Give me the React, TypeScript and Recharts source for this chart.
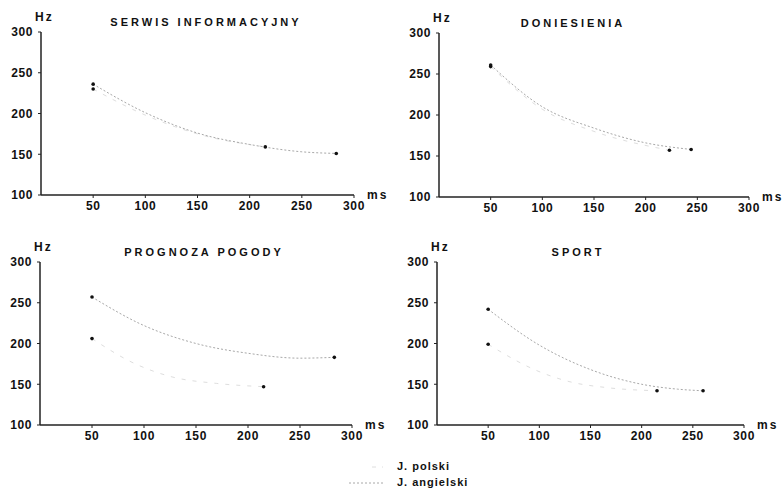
import { LineChart, Line, XAxis, YAxis } from "recharts"

const titles = ["SERWIS INFORMACYJNY", "DONIESIENIA", "PROGNOZA POGODY", "SPORT"]
const xTicks = [50, 100, 150, 200, 250, 300]
const yTicks = [100, 150, 200, 250, 300]
const legendLabels = ["J. polski", "J. angielski"]

// duration (ms) / pitch (Hz)
const serwisPolskiMs = [50, 100, 150, 215]
const serwisPolskiHz = [230, 198, 175, 159]
const serwisAngMs = [50, 100, 150, 200, 250, 283]
const serwisAngHz = [236, 201, 176, 162, 153, 151]

const donPolskiMs = [50, 100, 150, 223]
const donPolskiHz = [259, 207, 180, 157]
const donAngMs = [50, 100, 150, 200, 244]
const donAngHz = [261, 210, 184, 166, 158]

const progPolskiMs = [50, 90, 127, 170, 215]
const progPolskiHz = [206, 176, 159, 151, 147]
const progAngMs = [50, 100, 150, 200, 250, 283]
const progAngHz = [257, 222, 200, 188, 182, 183]

const sportPolskiMs = [50, 97, 130, 165, 215]
const sportPolskiHz = [199, 167, 153, 146, 142]
const sportAngMs = [50, 100, 150, 200, 235, 260]
const sportAngHz = [242, 198, 168, 150, 144, 142]

const zip = (xs: number[], ys: number[]) => xs.map((x, i) => ({ x, y: ys[i] }))

const series = [
  { polski: zip(serwisPolskiMs, serwisPolskiHz), ang: zip(serwisAngMs, serwisAngHz) },
  { polski: zip(donPolskiMs, donPolskiHz), ang: zip(donAngMs, donAngHz) },
  { polski: zip(progPolskiMs, progPolskiHz), ang: zip(progAngMs, progAngHz) },
  { polski: zip(sportPolskiMs, sportPolskiHz), ang: zip(sportAngMs, sportAngHz) },
]

// plot areas in page pixels: left, top, right, bottom
const boxes = [
  [41, 32, 354, 195],
  [439, 33, 749, 197],
  [40, 262, 352, 425],
  [437, 262, 744, 425],
]
const titleCenters = [206, 573, 204, 578]

const FONT = "'Liberation Sans', Arial, sans-serif"
const POLSKI = "#dedede"
const ANG = "#a8a8a8"

const endDot = (len: number) => (p: any) => {
  if (p.index === 0 || p.index === len - 1) {
    return <circle key={p.index} cx={p.cx} cy={p.cy} r={1.8} fill="#111" />
  }
  return <g key={p.index} />
}

function Panel({ idx }: { idx: number }) {
  const [l, t, r, b] = boxes[idx]
  const yw = 45
  const mt = 10
  const mr = 20
  const xh = 25
  const left = l - yw
  const top = t - mt
  const width = r - l + yw + mr
  const height = b - t + mt + xh
  const s = series[idx]
  const tick = { fill: "#111", fontSize: 12, fontWeight: 700, fontFamily: FONT, letterSpacing: 0.6 }
  return (
    <>
      <div style={{ position: "absolute", left, top, width, height }}>
        <LineChart width={width} height={height} margin={{ top: mt, right: mr, bottom: 0, left: 0 }}>
          <XAxis
            dataKey="x"
            type="number"
            domain={[0, 300]}
            ticks={xTicks}
            height={xh}
            tick={tick}
            tickSize={3}
            tickMargin={3}
            axisLine={{ stroke: "#222", strokeWidth: 1.5 }}
            tickLine={{ stroke: "#222" }}
            allowDuplicatedCategory={false}
          />
          <YAxis
            dataKey="y"
            type="number"
            domain={[100, 300]}
            ticks={yTicks}
            width={yw}
            tick={tick}
            tickSize={3}
            tickMargin={5}
            axisLine={{ stroke: "#222", strokeWidth: 1.5 }}
            tickLine={{ stroke: "#222" }}
          />
          <Line
            data={s.polski}
            dataKey="y"
            type="monotone"
            stroke={POLSKI}
            strokeWidth={1}
            strokeDasharray="4 7"
            dot={endDot(s.polski.length)}
            isAnimationActive={false}
          />
          <Line
            data={s.ang}
            dataKey="y"
            type="monotone"
            stroke={ANG}
            strokeWidth={1}
            strokeDasharray="2 2"
            dot={endDot(s.ang.length)}
            isAnimationActive={false}
          />
        </LineChart>
      </div>
      <div
        style={{
          position: "absolute",
          left: l - 6,
          top: t - 22,
          fontFamily: FONT,
          fontWeight: 700,
          fontSize: 12,
          letterSpacing: 2,
          color: "#111",
        }}
      >
        Hz
      </div>
      <div
        style={{
          position: "absolute",
          left: titleCenters[idx] - 150,
          width: 300,
          top: t - 16,
          textAlign: "center",
          fontFamily: FONT,
          fontWeight: 700,
          fontSize: 11,
          letterSpacing: 3,
          color: "#111",
        }}
      >
        {titles[idx]}
      </div>
      <div
        style={{
          position: "absolute",
          left: r + 13,
          top: b - 7,
          fontFamily: FONT,
          fontWeight: 700,
          fontSize: 12,
          letterSpacing: 2,
          color: "#111",
        }}
      >
        ms
      </div>
    </>
  )
}

export default function App() {
  return (
    <div style={{ position: "absolute", left: 0, top: 0, width: 784, height: 489, background: "#fff", overflow: "hidden" }}>
      {titles.map((_, i) => (
        <Panel key={i} idx={i} />
      ))}
      <svg style={{ position: "absolute", left: 0, top: 455 }} width={784} height={34}>
        <line x1={372} x2={383} y1={12} y2={12} stroke={POLSKI} strokeDasharray="4 6" />
        <line x1={349} x2={385} y1={28} y2={28} stroke={ANG} strokeDasharray="2 2" />
        {legendLabels.map((lab, i) => (
          <text
            key={lab}
            x={397}
            y={15 + i * 16}
            fontFamily={FONT}
            fontWeight={700}
            fontSize={11}
            letterSpacing={1}
            fill="#111"
          >
            {lab}
          </text>
        ))}
      </svg>
    </div>
  )
}
